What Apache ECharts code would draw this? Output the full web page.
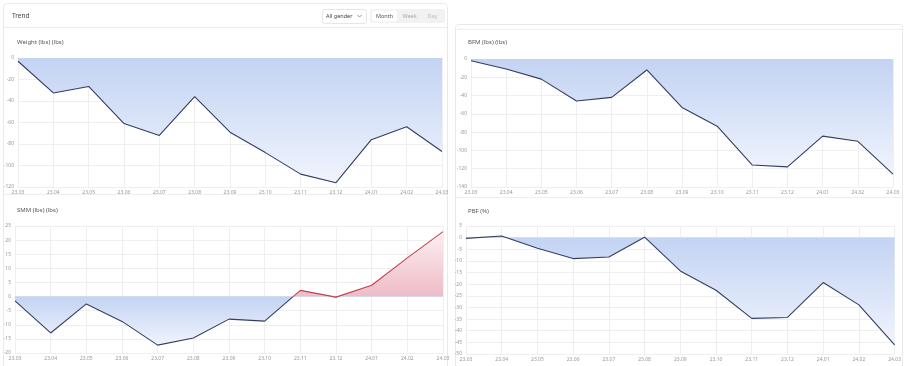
<!DOCTYPE html>
<html><head><meta charset="utf-8">
<script src="https://cdn.jsdelivr.net/npm/echarts@6/dist/echarts.min.js"></script>
<style>
html,body{margin:0;padding:0;background:#fff;width:904px;height:366px;overflow:hidden;}
#chart{position:absolute;left:0;top:0;width:904px;height:366px;}
</style></head><body>
<div id="chart"></div>
<script>
const categories = ['23.03','23.04','23.05','23.06','23.07','23.08','23.09','23.10','23.11','23.12','24.01','24.02','24.03'];
const weightValues = [-3, -32.5, -26.5, -61, -72, -36, -69, -88, -108, -116, -76, -64, -87];
const smmValues = [-1.5, -12.9, -2.6, -8.8, -17.2, -14.7, -8.0, -8.7, 2.2, -0.2, 4.0, 13.7, 23.0];
const bfmValues = [-2, -11, -22, -46, -42, -12, -53, -73.5, -116, -118, -84.4, -90, -126];
const pbfValues = [-0.3, 0.7, -4.6, -9, -8.3, 0.2, -14.3, -22.6, -34.7, -34.3, -19.3, -28.9, -46.1];
const weightAxis = [-120, 0, 20];
const smmAxis = [-20, 25, 5];
const bfmAxis = [-140, 0, 20];
const pbfAxis = [-50, 5, 5];
const titles = ['Weight (lbs) (lbs)', 'SMM (lbs) (lbs)', 'BFM (lbs) (lbs)', 'PBF (%)'];
const genderLabel = 'All gender';
const periodLabels = ['Month', 'Week', 'Day'];

const NAVY = '#333f60', RED = '#c4404f';
const FONT = '"Noto Sans", sans-serif';

function areaGrad(vals){
  const top = Math.max(0, ...vals), bot = Math.min(0, ...vals);
  const f = Math.max(0, top / (top - bot) - 0.004);
  return new echarts.graphic.LinearGradient(0,0,0,1,[
    {offset:0,color:'#fbeff2'},{offset:f,color:'#efbcc6'},
    {offset:f,color:'#c3d3f3'},{offset:1,color:'#f0f4fd'}]);
}
function lineGrad(vals){
  const top = Math.max(...vals), bot = Math.min(...vals);
  if (top <= 0) return NAVY;
  if (bot >= 0) return RED;
  const f = top / (top - bot);
  return new echarts.graphic.LinearGradient(0,0,0,1,[
    {offset:0,color:RED},{offset:f,color:RED},
    {offset:f,color:NAVY},{offset:1,color:NAVY}]);
}

const grids = [
  {left:18, top:58, width:424, height:129},
  {left:15, top:226, width:428, height:127},
  {left:471, top:59, width:422, height:128},
  {left:466, top:226, width:430, height:128}
];
const allVals = [weightValues, smmValues, bfmValues, pbfValues];
const axes = [weightAxis, smmAxis, bfmAxis, pbfAxis];
const titlePos = [[12,34],[12,202],[463,34],[463,203]];

const chart = echarts.init(document.getElementById('chart'), null, {renderer:'canvas'});
const option = {
  animation:false,
  textStyle:{fontFamily:FONT},
  title: titles.map((t,i)=>({text:t, left:titlePos[i][0], top:titlePos[i][1],
    textStyle:{fontSize:6, fontWeight:'normal', color:'#555', fontFamily:FONT}})),
  grid: grids,
  xAxis: grids.map((g,i)=>({gridIndex:i, type:'category', boundaryGap:false, data:categories,
    axisLine:{show:true, lineStyle:{color:'#e3e3e3'}}, axisTick:{show:false},
    axisLabel:{fontSize:5, color:'#999', margin:3, interval:0},
    splitLine:{show:true, lineStyle:{color:'#efefef', width:1}}})),
  yAxis: grids.map((g,i)=>({gridIndex:i, type:'value', min:axes[i][0], max:axes[i][1], interval:axes[i][2],
    axisLine:{show:false}, axisTick:{show:false},
    axisLabel:{fontSize:5, color:'#999', margin:4},
    splitLine:{show:true, lineStyle:{color:'#efefef', width:1}}})),
  series: allVals.map((v,i)=>({type:'line', xAxisIndex:i, yAxisIndex:i, data:v,
    showSymbol:false, symbol:'none', lineStyle:{width:1.1, color:lineGrad(v)},
    areaStyle:{color:areaGrad(v), opacity:1, origin:0}})),
  graphic: [
    {type:'rect', shape:{x:3.5,y:3.5,width:444,height:400,r:4}, style:{fill:'none', stroke:'#e9e9e9', lineWidth:1}, z:-10},
    {type:'line', shape:{x1:4,y1:27.5,x2:447,y2:27.5}, style:{stroke:'#eeeeee', lineWidth:1}},
    {type:'line', shape:{x1:4,y1:194.5,x2:447,y2:194.5}, style:{stroke:'#eeeeee', lineWidth:1}},
    {type:'text', x:12, y:16, style:{text:'Trend', fontSize:6.5, fill:'#444', verticalAlign:'middle', fontFamily:FONT}},
    {type:'rect', shape:{x:322.5,y:9.5,width:44,height:14,r:2}, style:{fill:'#fff', stroke:'#e6e6e6'}},
    {type:'text', x:326, y:16.5, style:{text:genderLabel, fontSize:5.5, fill:'#444', verticalAlign:'middle', fontFamily:FONT}},
    {type:'polyline', shape:{points:[[357.5,15],[359.5,17],[361.5,15]]}, style:{stroke:'#777', fill:'none', lineWidth:0.8}},
    {type:'rect', shape:{x:370,y:9,width:75,height:14,r:2}, style:{fill:'#f2f2f4'}},
    {type:'rect', shape:{x:372,y:10.5,width:25,height:11,r:2}, style:{fill:'#fff'}},
    {type:'text', x:384.5, y:16.5, style:{text:periodLabels[0], fontSize:5.5, fill:'#555', align:'center', verticalAlign:'middle', fontFamily:FONT}},
    {type:'text', x:409.5, y:16.5, style:{text:periodLabels[1], fontSize:5.5, fill:'#aaa', align:'center', verticalAlign:'middle', fontFamily:FONT}},
    {type:'text', x:432.5, y:16.5, style:{text:periodLabels[2], fontSize:5.5, fill:'#bbb', align:'center', verticalAlign:'middle', fontFamily:FONT}},
    {type:'rect', shape:{x:455.5,y:24.5,width:447,height:380,r:3}, style:{fill:'none', stroke:'#e9e9e9', lineWidth:1}, z:-10},
    {type:'line', shape:{x1:456,y1:29.5,x2:902,y2:29.5}, style:{stroke:'#eeeeee', lineWidth:1}},
    {type:'line', shape:{x1:456,y1:197.5,x2:902,y2:197.5}, style:{stroke:'#eeeeee', lineWidth:1}}
  ]
};
chart.setOption(option);
</script>
</body></html>
